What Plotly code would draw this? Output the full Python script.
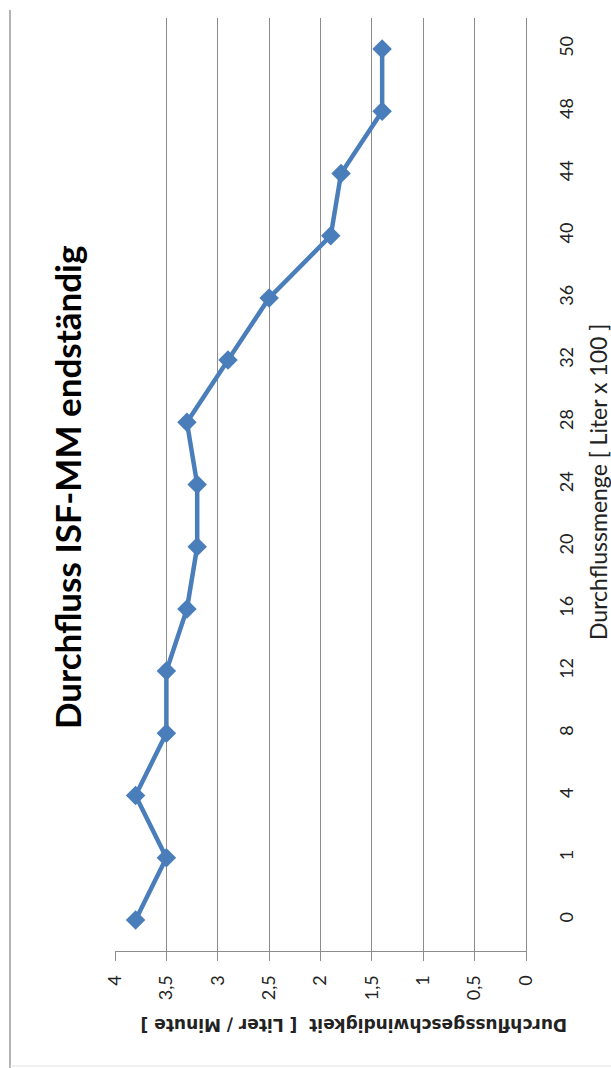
import plotly.graph_objects as go

# ---- data ----
categories = ["0", "1", "4", "8", "12", "16", "20", "24", "28", "32", "36", "40", "44", "48", "50"]
flow_rate = [3.8, 3.5, 3.8, 3.5, 3.5, 3.3, 3.2, 3.2, 3.3, 2.9, 2.5, 1.9, 1.8, 1.4, 1.4]
value_ticks = [0, 0.5, 1, 1.5, 2, 2.5, 3, 3.5, 4]
value_tick_labels = ["0", "0,5", "1", "1,5", "2", "2,5", "3", "3,5", "4"]

title_text = "Durchfluss ISF-MM endständig"
cat_title = "Durchflussmenge [ Liter x 100 ]"
val_title = "Durchflussgeschwindigkeit  [ Liter / Minute ]"

W, H = 611, 1068
L, R, T, B = 115, 526, 18, 951  # plot area in pixels

def px(x):
    return (x - L) / (R - L)

def py(y):
    return (B - y) / (B - T)

LINE = "#4A7EBB"
GRID = "#8C8C8C"
TXT = "#000000"
FONT = "Lato, Open Sans, sans-serif"

fig = go.Figure()
fig.add_trace(go.Scatter(
    x=flow_rate, y=categories, mode="lines+markers",
    line=dict(color=LINE, width=4.5),
    marker=dict(symbol="diamond", size=15, color=LINE),
    showlegend=False, cliponaxis=False,
))

fig.update_layout(
    width=W, height=H,
    margin=dict(l=L, r=W - R, t=T, b=H - B),
    paper_bgcolor="white", plot_bgcolor="white",
    separators=", ",
    showlegend=False,
    xaxis=dict(
        range=[4, 0], tickvals=value_ticks, ticktext=value_tick_labels,
        tickangle=-90, showgrid=True, gridcolor=GRID, gridwidth=1,
        showline=True, linecolor=GRID, linewidth=1.2,
        ticks="outside", ticklen=9, tickcolor=GRID,
        ticklabelstandoff=7,
        zeroline=False, tickfont=dict(family=FONT, size=18, color="#222"),
    ),
    yaxis=dict(
        type="category", categoryorder="array", categoryarray=categories,
        range=[-0.5, len(categories) - 0.5], side="right",
        tickangle=-90, showgrid=False, showline=True, linecolor=GRID, linewidth=1.2,
        ticks="", ticklabelstandoff=24,
        tickfont=dict(family=FONT, size=18, color="#222"),
    ),
    annotations=[
        dict(text=title_text, xref="paper", yref="paper", x=px(67), y=py(488),
             textangle=-90, showarrow=False, xanchor="center", yanchor="middle",
             font=dict(family=FONT, size=35, color=TXT, weight="bold")),
        dict(text=cat_title, xref="paper", yref="paper", x=px(598), y=py(482),
             textangle=-90, showarrow=False, xanchor="center", yanchor="middle",
             font=dict(family=FONT, size=23, color="#222")),
        dict(text=val_title, xref="paper", yref="paper", x=px(354), y=py(1025),
             textangle=180, showarrow=False, xanchor="center", yanchor="middle",
             font=dict(family="DejaVu Sans", size=17, color="#222", weight="bold")),
    ],
    shapes=[
        dict(type="line", xref="paper", yref="paper", x0=px(10), x1=px(10),
             y0=py(10), y1=py(1068), line=dict(color="#9A9A9A", width=1.5)),
        dict(type="line", xref="paper", yref="paper", x0=px(10), x1=px(611),
             y0=py(1066), y1=py(1066), line=dict(color="#E4E4E4", width=1)),
    ],
)

fig.write_html("out.html")
